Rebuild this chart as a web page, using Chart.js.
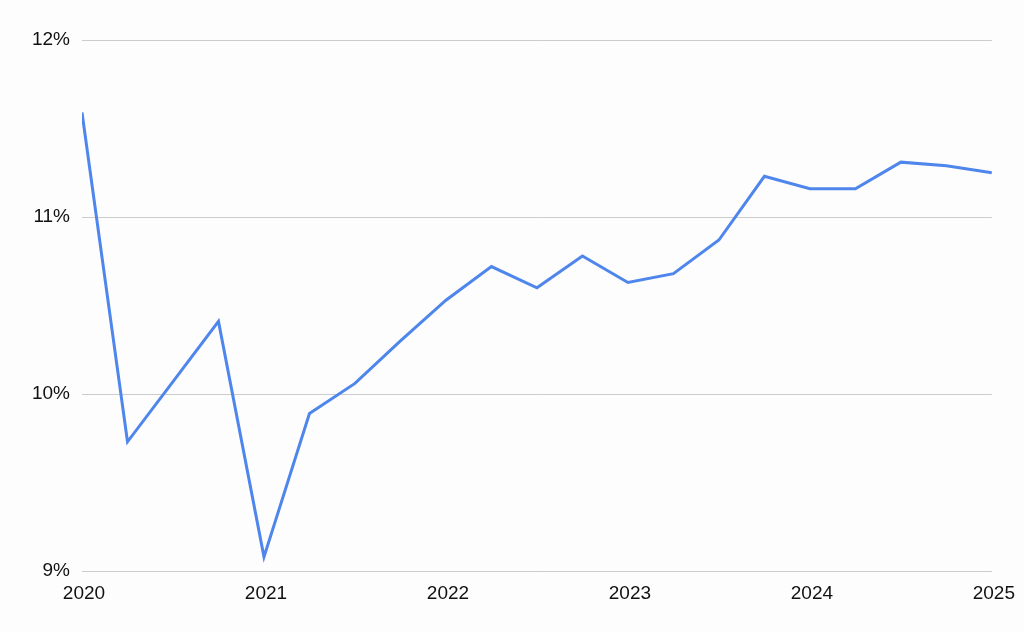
<!DOCTYPE html>
<html>
<head>
<meta charset="utf-8">
<script src="https://cdn.jsdelivr.net/npm/chart.js@4/dist/chart.umd.min.js"></script>
<style>
  html, body { margin: 0; padding: 0; background: #fdfdfd; }
  canvas { display: block; }
</style>
</head>
<body>
<canvas id="c" width="1024" height="632"></canvas>
<script>
const periods = [2020, 2020.25, 2020.5, 2020.75, 2021, 2021.25, 2021.5, 2021.75,
                 2022, 2022.25, 2022.5, 2022.75, 2023, 2023.25, 2023.5, 2023.75,
                 2024, 2024.25, 2024.5, 2024.75, 2025];
const rates = [11.59, 9.73, 10.07, 10.41, 9.08, 9.89, 10.06, 10.30,
               10.53, 10.72, 10.60, 10.78, 10.63, 10.68, 10.87, 11.23,
               11.16, 11.16, 11.31, 11.29, 11.25];
const yearTicks = [2020, 2021, 2022, 2023, 2024, 2025];
const pctTicks = [9, 10, 11, 12];

const points = periods.map((p, i) => ({ x: p, y: rates[i] }));

new Chart(document.getElementById('c'), {
  type: 'line',
  data: {
    datasets: [{
      data: points,
      borderColor: '#4f86ec',
      borderWidth: 3,
      pointRadius: 0,
      pointHoverRadius: 0,
      tension: 0,
      fill: false
    }]
  },
  options: {
    responsive: false,
    animation: false,
    layout: { padding: { left: 0, right: 31, top: 40, bottom: 0 } },
    plugins: { legend: { display: false }, tooltip: { enabled: false } },
    scales: {
      x: {
        type: 'linear',
        min: 2020, max: 2025,
        afterBuildTicks: s => { s.ticks = yearTicks.map(v => ({ value: v })); },
        grid: { display: false, drawTicks: false },
        border: { display: false },
        ticks: {
          padding: 11,
          labelOffset: 2,
          color: '#111',
          font: { family: '"Liberation Sans", Arial, sans-serif', size: 19 },
          maxRotation: 0,
          callback: v => String(v)
        },
        afterFit: s => { s.height = 61; }
      },
      y: {
        min: 9, max: 12,
        afterBuildTicks: s => { s.ticks = pctTicks.map(v => ({ value: v })); },
        grid: { color: '#cccccc', lineWidth: 1, drawTicks: false },
        border: { display: false },
        ticks: {
          padding: 12,
          color: '#111',
          font: { family: '"Liberation Sans", Arial, sans-serif', size: 19 },
          callback: v => v + '%'
        },
        afterFit: s => { s.width = 82; }
      }
    }
  }
});
</script>
</body>
</html>
